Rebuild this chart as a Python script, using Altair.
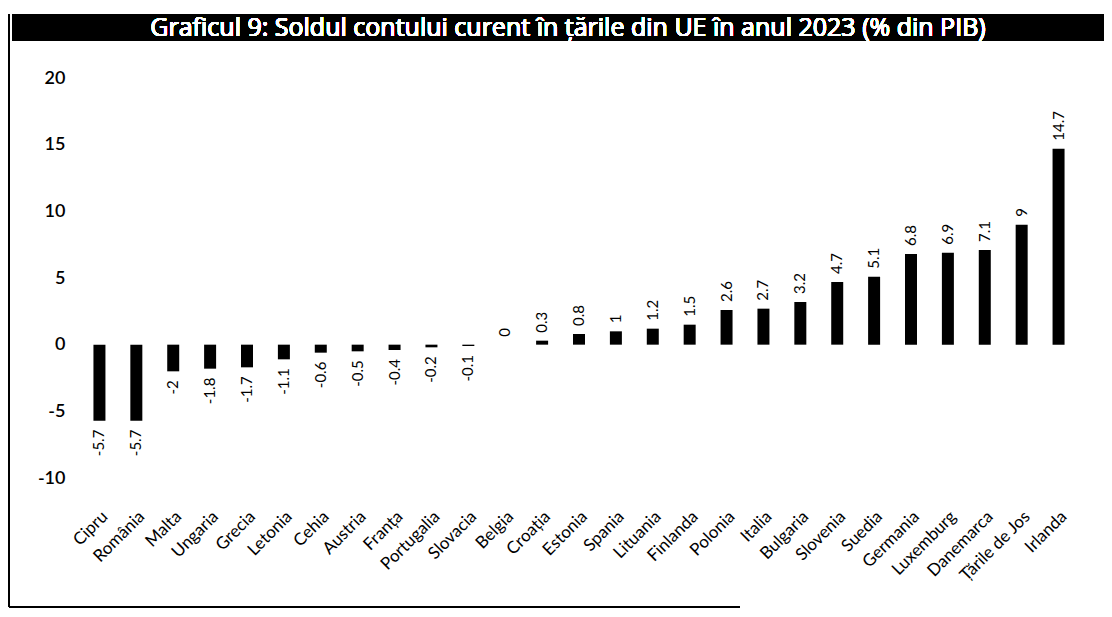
import altair as alt
import pandas as pd

countries = ["Cipru", "România", "Malta", "Ungaria", "Grecia", "Letonia", "Cehia",
             "Austria", "Franța", "Portugalia", "Slovacia", "Belgia", "Croația",
             "Estonia", "Spania", "Lituania", "Finlanda", "Polonia", "Italia",
             "Bulgaria", "Slovenia", "Suedia", "Germania", "Luxemburg", "Danemarca",
             "Țările de Jos", "Irlanda"]
values = [-5.7, -5.7, -2, -1.8, -1.7, -1.1, -0.6, -0.5, -0.4, -0.2, -0.1, 0, 0.3,
          0.8, 1, 1.2, 1.5, 2.6, 2.7, 3.2, 4.7, 5.1, 6.8, 6.9, 7.1, 9, 14.7]
y_ticks = [-10, -5, 0, 5, 10, 15, 20]
title_text = "Graficul 9: Soldul contului curent în țările din UE în anul 2023 (% din PIB)"

df = pd.DataFrame({
    "tara": countries,
    "val": values,
    "lab": [f"{v:g}" for v in values],
})

FONT = "Lato"
W, H = 996, 400

x_enc = alt.X("tara:N", sort=None, title=None,
              scale=alt.Scale(paddingInner=0.67, paddingOuter=0.335),
              axis=alt.Axis(labelAngle=-45, labelAlign="right", labelBaseline="top",
                            labelPadding=30, ticks=False, domain=False,
                            labelFont=FONT, labelFontSize=17, labelColor="black",
                            labelOverlap=False))
y_scale = alt.Scale(domain=[-10, 20], nice=False)

base = alt.Chart(df)

bars = base.mark_bar(color="black", size=12).encode(
    x=x_enc,
    y=alt.Y("val:Q", scale=y_scale, title=None,
            axis=alt.Axis(values=y_ticks, grid=False, ticks=False, domain=False,
                          labelExpr="'' + datum.value",
                          labelPadding=16, labelFont=FONT, labelFontSize=18,
                          labelColor="black", labelFontWeight=600)),
)

pos_lab = base.transform_filter("datum.val >= 0").mark_text(
    angle=270, align="left", baseline="middle", dx=8,
    font=FONT, fontSize=15, color="black"
).encode(x=alt.X("tara:N", sort=None), y=alt.Y("val:Q", scale=y_scale), text="lab:N")

neg_lab = base.transform_filter("datum.val < 0").mark_text(
    angle=270, align="right", baseline="middle", dx=-9,
    font=FONT, fontSize=15, color="black"
).encode(x=alt.X("tara:N", sort=None), y=alt.Y("val:Q", scale=y_scale), text="lab:N")

band = base.mark_rect(color="black", clip=False).encode(
    x=alt.value(-69), x2=alt.value(1023), y=alt.value(-64), y2=alt.value(-37)
)
title_mark = base.mark_text(
    color="white", font="Open Sans", fontSize=25, fontWeight="normal",
    align="center", baseline="middle", clip=False
).encode(x=alt.value(487), y=alt.value(-50), text=alt.value(title_text))

left_border = base.mark_rule(color="black", strokeWidth=2, clip=False).encode(
    x=alt.value(-72), y=alt.value(-64), y2=alt.value(529)
)
bottom_border = base.mark_rule(color="black", strokeWidth=2, clip=False).encode(
    x=alt.value(-72), x2=alt.value(659), y=alt.value(529)
)

chart = alt.layer(band, title_mark, left_border, bottom_border, bars, pos_lab, neg_lab).properties(
    width=W, height=H,
    background="white",
    autosize=alt.AutoSizeParams(type="none"),
    padding={"left": 73, "top": 70, "right": 27, "bottom": 131},
).configure_view(strokeWidth=0, stroke=None)

chart.save("out.html", embed_options={"renderer": "svg", "actions": False})
